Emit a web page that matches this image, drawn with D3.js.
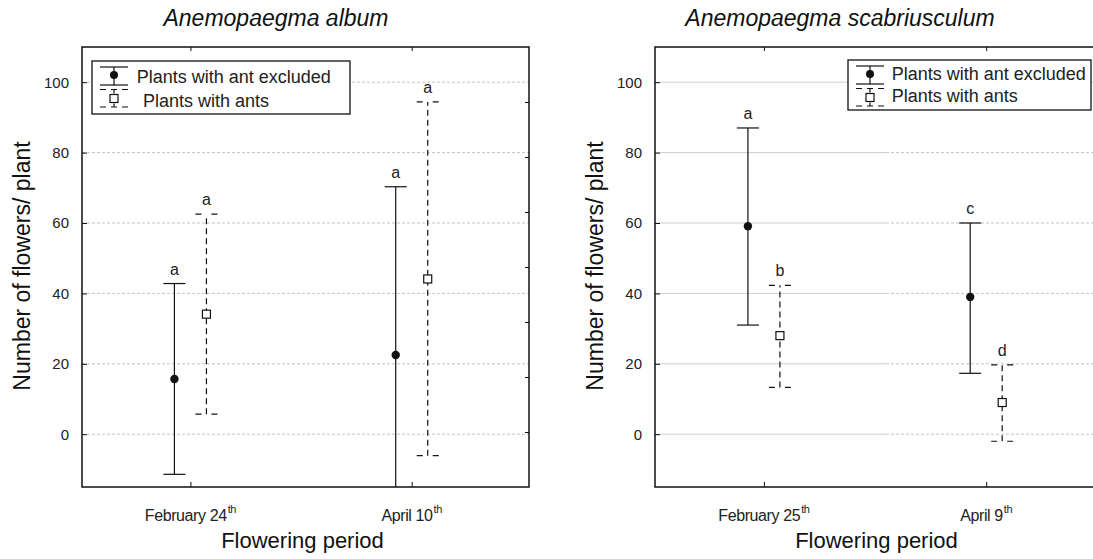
<!DOCTYPE html>
<html>
<head>
<meta charset="utf-8">
<script src="https://cdn.jsdelivr.net/npm/d3@7"></script>
<style>
  html, body { margin: 0; padding: 0; background: #fff; }
  svg { display: block; }
  text { font-family: Arial, "Liberation Sans", sans-serif; }
</style>
</head>
<body>
<svg id="chart" width="1093" height="559"></svg>
<script>
// ---------------- DATA ----------------
const yTicks = [0, 20, 40, 60, 80, 100];
const legendLabels = ["Plants with ant excluded", "Plants with ants"];

const albumCategories = ["February 24", "April 10"];
const albumSuper = ["th", "th"];
const albumExcludedMean  = [15.7, 22.5];
const albumExcludedLower = [-11.4, -25.3];
const albumExcludedUpper = [42.8, 70.3];
const albumExcludedLetters = ["a", "a"];
const albumAntsMean  = [34.1, 44.1];
const albumAntsLower = [5.7, -6.1];
const albumAntsUpper = [62.5, 94.4];
const albumAntsLetters = ["a", "a"];

const scabCategories = ["February 25", "April 9"];
const scabSuper = ["th", "th"];
const scabExcludedMean  = [59.1, 39.0];
const scabExcludedLower = [31.0, 17.3];
const scabExcludedUpper = [87.0, 60.0];
const scabExcludedLetters = ["a", "c"];
const scabAntsMean  = [28.0, 9.0];
const scabAntsLower = [13.3, -2.0];
const scabAntsUpper = [42.3, 19.7];
const scabAntsLetters = ["b", "d"];

// ---------------- LAYOUT ----------------
const svg = d3.select("#chart");
const T = 47, B = 487;
const y = d3.scaleLinear().domain([-15, 110]).range([B, T]);

const panels = [
  {
    id: "p1", title: "Anemopaegma album", titleX: 276, L: 82, R: 529,
    cats: albumCategories, sup: albumSuper,
    series: [
      { mean: albumExcludedMean, lo: albumExcludedLower, hi: albumExcludedUpper, letters: albumExcludedLetters },
      { mean: albumAntsMean, lo: albumAntsLower, hi: albumAntsUpper, letters: albumAntsLetters }
    ],
    gridSolidTo: 0,
    rightTicks: { domain: [0, 8], values: d3.range(1, 8) },
    legend: { x: 92, y: 61, w: 258, h: 53, text1X: 44.7, text2X: 51, base1: 22, base2: 45.5 }
  },
  {
    id: "p2", title: "Anemopaegma scabriusculum", titleX: 840, L: 655, R: 1104,
    cats: scabCategories, sup: scabSuper,
    series: [
      { mean: scabExcludedMean, lo: scabExcludedLower, hi: scabExcludedUpper, letters: scabExcludedLetters },
      { mean: scabAntsMean, lo: scabAntsLower, hi: scabAntsUpper, letters: scabAntsLetters }
    ],
    gridSolidTo: 886,
    rightTicks: { domain: [-1.22, 14.6], values: d3.range(0, 15) },
    legend: { x: 848, y: 60, w: 243, h: 50, text1X: 43.7, text2X: 43.7, base1: 20, base2: 42 }
  }
];

const seriesStyle = [
  { offset: -16, dash: null, capDash: null, marker: "circle" },
  { offset: 16, dash: "6,4", capDash: "6,10", marker: "square" }
];
const capHalf = 11;
const ink = "#111";
const labelInk = "#222";

panels.forEach(p => {
  const g = svg.append("g");
  const x = d3.scaleLinear().domain([-0.49, 1.53]).range([p.L, p.R]);

  // clip
  svg.append("defs").append("clipPath").attr("id", "clip-" + p.id)
    .append("rect").attr("x", p.L).attr("y", T).attr("width", p.R - p.L).attr("height", B - T);

  // gridlines
  yTicks.forEach(v => {
    const yy = y(v);
    if (p.gridSolidTo > 0) {
      g.append("line").attr("x1", p.L).attr("x2", p.gridSolidTo).attr("y1", yy).attr("y2", yy)
        .attr("stroke", "#cfcfcf").attr("stroke-width", 1);
      g.append("line").attr("x1", p.gridSolidTo).attr("x2", p.R).attr("y1", yy).attr("y2", yy)
        .attr("stroke", "#c4c4c4").attr("stroke-width", 1).attr("stroke-dasharray", "3,2");
    } else {
      g.append("line").attr("x1", p.L).attr("x2", p.R).attr("y1", yy).attr("y2", yy)
        .attr("stroke", "#c4c4c4").attr("stroke-width", 1).attr("stroke-dasharray", "3,2");
    }
  });

  // left axis (inward ticks)
  const yAxis = d3.axisLeft(y).tickValues(yTicks).tickSize(-5).tickPadding(13);
  const ya = g.append("g").attr("transform", `translate(${p.L},0)`).call(yAxis);
  ya.select(".domain").remove();
  ya.selectAll("line").attr("stroke", ink);
  ya.selectAll("text").attr("font-size", 15).attr("fill", labelInk)
    .attr("font-family", "Arial, 'Liberation Sans', sans-serif");

  // right axis minor ticks (inward)
  const yr = d3.scaleLinear().domain(p.rightTicks.domain).range([B, T]);
  const ra = g.append("g").attr("transform", `translate(${p.R},0)`)
    .call(d3.axisRight(yr).tickValues(p.rightTicks.values).tickSize(-4).tickFormat(""));
  ra.select(".domain").remove();
  ra.selectAll("line").attr("stroke", ink);

  // top & bottom category ticks (inward)
  const idx = p.cats.map((c, i) => i);
  const ta = g.append("g").attr("transform", `translate(0,${T})`)
    .call(d3.axisTop(x).tickValues(idx).tickSize(-4).tickFormat(""));
  ta.select(".domain").remove(); ta.selectAll("line").attr("stroke", ink);
  const ba = g.append("g").attr("transform", `translate(0,${B})`)
    .call(d3.axisBottom(x).tickValues(idx).tickSize(-5).tickFormat(""));
  ba.select(".domain").remove(); ba.selectAll("line").attr("stroke", ink);

  // category labels with superscript
  p.cats.forEach((c, i) => {
    const t = g.append("text").attr("x", x(i)).attr("y", 521).attr("text-anchor", "middle")
      .attr("font-size", 16).attr("fill", labelInk).attr("letter-spacing", -0.4);
    t.append("tspan").text(c);
    t.append("tspan").attr("font-size", 11).attr("dy", -8).attr("dx", 1).text(p.sup[i]);
  });

  // error bars
  const eb = g.append("g").attr("clip-path", `url(#clip-${p.id})`);
  p.series.forEach((s, si) => {
    const st = seriesStyle[si];
    s.mean.forEach((m, i) => {
      const cx = x(i) + st.offset;
      eb.append("line").attr("x1", cx).attr("x2", cx).attr("y1", y(s.lo[i])).attr("y2", y(s.hi[i]))
        .attr("stroke", ink).attr("stroke-width", 1.2).attr("stroke-dasharray", st.dash);
      [s.lo[i], s.hi[i]].forEach(v => {
        eb.append("line").attr("x1", cx - capHalf).attr("x2", cx + capHalf).attr("y1", y(v)).attr("y2", y(v))
          .attr("stroke", ink).attr("stroke-width", 1.2).attr("stroke-dasharray", st.capDash);
      });
      if (st.marker === "circle") {
        eb.append("circle").attr("cx", cx).attr("cy", y(m)).attr("r", 4.2).attr("fill", ink);
      } else {
        eb.append("rect").attr("x", cx - 4).attr("y", y(m) - 4).attr("width", 8).attr("height", 8)
          .attr("fill", "#fff").attr("stroke", ink).attr("stroke-width", 1.2);
      }
      g.append("text").attr("x", cx).attr("y", y(s.hi[i]) - 9).attr("text-anchor", "middle")
        .attr("font-size", 16).attr("fill", labelInk).text(s.letters[i]);
    });
  });

  // frame
  g.append("rect").attr("x", p.L).attr("y", T).attr("width", p.R - p.L).attr("height", B - T)
    .attr("fill", "none").attr("stroke", ink).attr("stroke-width", 1.5);

  // legend
  const lg = p.legend;
  const l = g.append("g").attr("transform", `translate(${lg.x},${lg.y})`);
  l.append("rect").attr("width", lg.w).attr("height", lg.h).attr("fill", "#fff")
    .attr("stroke", ink).attr("stroke-width", 1.3);
  const sx = 22;
  const s1 = { top: 6, bot: 24, mid: 14 };
  l.append("line").attr("x1", sx).attr("x2", sx).attr("y1", s1.top).attr("y2", s1.bot).attr("stroke", ink).attr("stroke-width", 1.2);
  [s1.top, s1.bot].forEach(v => l.append("line").attr("x1", sx - 14).attr("x2", sx + 14).attr("y1", v).attr("y2", v).attr("stroke", ink).attr("stroke-width", 1.2));
  l.append("circle").attr("cx", sx).attr("cy", s1.mid).attr("r", 4).attr("fill", ink);
  const s2 = { top: 28.5, bot: 46, mid: 37.5 };
  l.append("line").attr("x1", sx).attr("x2", sx).attr("y1", s2.top).attr("y2", s2.bot).attr("stroke", ink).attr("stroke-width", 1.2).attr("stroke-dasharray", "4,3");
  [s2.top, s2.bot].forEach(v => l.append("line").attr("x1", sx - 14).attr("x2", sx + 14).attr("y1", v).attr("y2", v).attr("stroke", ink).attr("stroke-width", 1.2).attr("stroke-dasharray", "6,5"));
  l.append("rect").attr("x", sx - 4).attr("y", s2.mid - 4).attr("width", 8).attr("height", 8).attr("fill", "#fff").attr("stroke", ink).attr("stroke-width", 1.2);
  l.append("text").attr("x", lg.text1X).attr("y", lg.base1).attr("font-size", 18).attr("fill", labelInk).text(legendLabels[0]);
  l.append("text").attr("x", lg.text2X).attr("y", lg.base2).attr("font-size", 18).attr("fill", labelInk).text(legendLabels[1]);

  // titles
  g.append("text").attr("x", p.titleX).attr("y", 26).attr("text-anchor", "middle")
    .attr("font-size", 23).attr("font-style", "italic").attr("fill", ink).text(p.title);
  g.append("text").attr("x", (p.L + Math.min(p.R, 1104)) / 2 - 3).attr("y", 548).attr("text-anchor", "middle")
    .attr("font-size", 22).attr("fill", ink).text("Flowering period");
  g.append("text").attr("transform", `translate(${p.L - 52},266) rotate(-90)`).attr("text-anchor", "middle")
    .attr("font-size", 23).attr("fill", ink).text("Number of flowers/ plant");
});
</script>
</body>
</html>
